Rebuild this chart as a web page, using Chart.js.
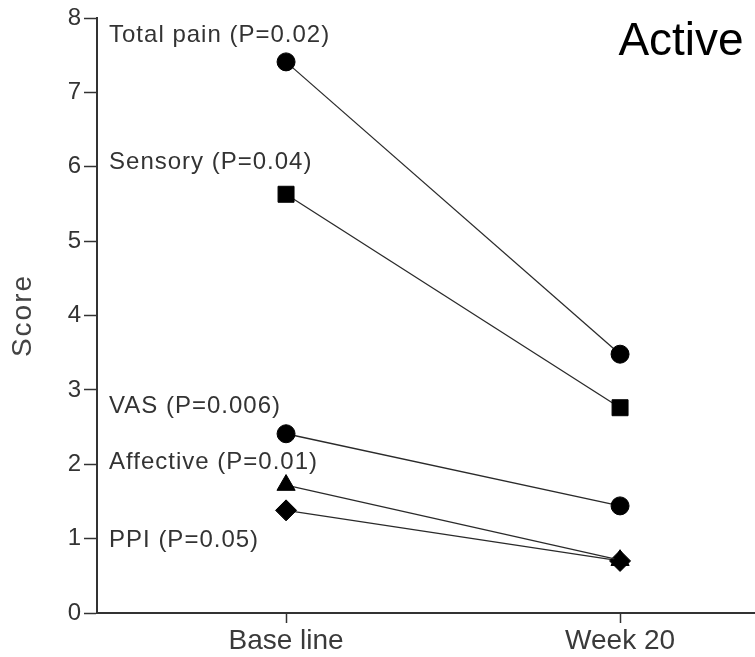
<!DOCTYPE html>
<html>
<head>
<meta charset="utf-8">
<script src="https://cdn.jsdelivr.net/npm/chart.js@4/dist/chart.umd.min.js"></script>
<style>
  html, body { margin: 0; padding: 0; background: #fff; overflow: hidden; }
  #wrap { position: relative; width: 755px; height: 657px; }
</style>
</head>
<body>
<div id="wrap"><canvas id="c" width="755" height="657"></canvas></div>
<script>
// ---- data ----
const timepoints = ["Base line", "Week 20"];
const seriesNames = ["Total pain (P=0.02)", "Sensory (P=0.04)", "VAS (P=0.006)", "Affective (P=0.01)", "PPI (P=0.05)"];
const totalPain = [7.41, 3.48];
const sensory = [5.63, 2.76];
const vas = [2.41, 1.44];
const affective = [1.72, 0.71];
const ppi = [1.38, 0.70];
const yTicks = [0, 1, 2, 3, 4, 5, 6, 7, 8];
const panelTitle = "Active";
const yTitle = "Score";

const seriesValues = [totalPain, sensory, vas, affective, ppi];
const markerStyles = ["circle", "rect", "circle", "triangle", "rectRot"];
const markerRadius = [9, 11.3, 9, 10.5, 10.5];
// vertical anchor (in score units) of each series' text label
const labelAnchors = [7.77, 6.06, 2.78, 2.03, 0.98];

const FONT = '"Liberation Sans", Arial, sans-serif';

const datasets = seriesValues.map((vals, i) => ({
  label: seriesNames[i],
  data: vals.map((v, j) => ({ x: j, y: v })),
  borderColor: '#2a2a2a',
  borderWidth: 1.3,
  backgroundColor: '#000',
  pointBackgroundColor: '#000',
  pointBorderColor: '#000',
  pointStyle: markerStyles[i],
  pointRadius: markerRadius[i],
  pointBorderWidth: 1,
  showLine: true,
  fill: false
}));

const labelPlugin = {
  id: 'seriesLabels',
  afterDatasetsDraw(chart) {
    const ctx = chart.ctx;
    const xs = chart.scales.x, ys = chart.scales.y;
    ctx.save();
    ctx.fillStyle = '#333';
    ctx.font = '24px ' + FONT;
    ctx.letterSpacing = '1px';
    ctx.textAlign = 'left';
    ctx.textBaseline = 'middle';
    seriesNames.forEach((name, i) => {
      ctx.fillText(name, xs.getPixelForValue(-0.53), ys.getPixelForValue(labelAnchors[i]));
    });
    // y axis title
    ctx.save();
    ctx.font = '28px ' + FONT;
    ctx.letterSpacing = '2px';
    ctx.fillStyle = '#444';
    ctx.textAlign = 'center';
    ctx.translate(23, (chart.chartArea.top + chart.chartArea.bottom) / 2);
    ctx.rotate(-Math.PI / 2);
    ctx.fillText(yTitle, 0, 0);
    ctx.restore();
    // panel title
    ctx.letterSpacing = '0px';
    ctx.fillStyle = '#000';
    ctx.font = '46px ' + FONT;
    ctx.textBaseline = 'alphabetic';
    ctx.fillText(panelTitle, xs.getPixelForValue(0.995), 55);
    ctx.restore();
  }
};

new Chart(document.getElementById('c'), {
  type: 'scatter',
  data: { datasets },
  options: {
    responsive: false,
    animation: false,
    layout: { autoPadding: false, padding: { top: 18, right: 0, left: 0, bottom: 0 } },
    plugins: { legend: { display: false }, tooltip: { enabled: false } },
    scales: {
      x: {
        type: 'linear',
        min: -0.566,
        max: 1.404,
        afterBuildTicks(scale) { scale.ticks = timepoints.map((t, i) => ({ value: i })); },
        afterFit(scale) { scale.height = 44; scale.paddingRight = 0; scale.paddingLeft = 0; },
        ticks: {
          callback: (v) => timepoints[v] !== undefined ? timepoints[v] : '',
          color: '#3a3a3a',
          font: { size: 28, family: FONT },
          padding: 1,
          maxRotation: 0
        },
        grid: { drawOnChartArea: false, tickLength: 10, color: '#333', tickWidth: 1.5 },
        border: { display: true, color: '#333', width: 2 }
      },
      y: {
        min: 0,
        max: 8,
        afterBuildTicks(scale) { scale.ticks = yTicks.map(v => ({ value: v })); },
        afterFit(scale) { scale.width = 97; scale.paddingTop = 0; scale.paddingBottom = 0; },
        ticks: {
          color: '#333',
          font: { size: 24, family: FONT },
          padding: 3
        },
        grid: { drawOnChartArea: false, tickLength: 13, color: '#333', tickWidth: 1.5 },
        border: { display: true, color: '#333', width: 2 }
      }
    }
  },
  plugins: [labelPlugin]
});
</script>
</body>
</html>
